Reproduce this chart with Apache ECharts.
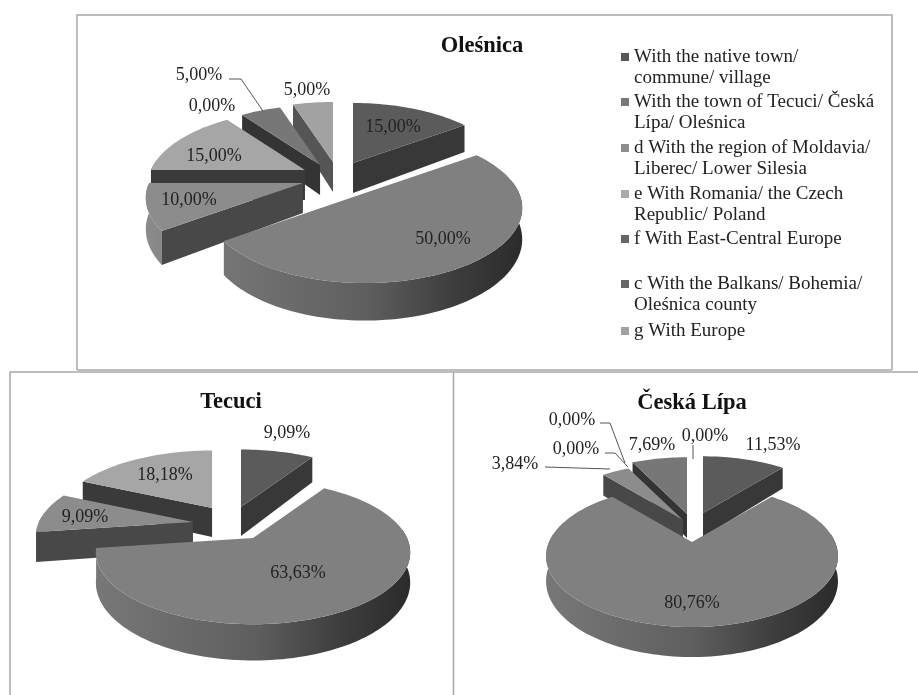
<!DOCTYPE html>
<html>
<head>
<meta charset="utf-8">
<style>html,body{margin:0;padding:0;background:#fff}#c{width:918px;height:695px}</style>
<script src="https://cdn.jsdelivr.net/npm/echarts@6/dist/echarts.min.js"></script>
</head>
<body>
<div id="c"></div>
<script>
// ---- data ----
const pieTitles = ['Oleśnica', 'Tecuci', 'Česká Lípa'];
const categories = [
  'With the native town/\ncommune/ village',
  'With the town of Tecuci/ Česká\nLípa/ Oleśnica',
  'd With the region of Moldavia/\nLiberec/ Lower Silesia',
  'e With Romania/ the Czech\nRepublic/ Poland',
  'f With East-Central Europe',
  'c With the Balkans/ Bohemia/\nOleśnica county',
  'g With Europe'
];
const olesnicaValues = [15, 50, 10, 15, 0, 5, 5];
const tecuciValues = [9.09, 63.63, 9.09, 18.18, 0, 0, 0];
const ceskaValues = [11.53, 80.76, 3.84, 0, 0, 7.69, 0];
const pieValues = [olesnicaValues, tecuciValues, ceskaValues];

// ---- styling and layout ----
const SERIF = '"Liberation Serif","Times New Roman",serif';
const INK = '#222';
const topColors = ['#5b5b5b', '#808080', '#8c8c8c', '#a6a6a6', '#555555', '#777777', '#a2a2a2'];
const faceColors = ['#383838', '#3c3c3c', '#484848', '#3a3a3a', '#333333', '#343434', '#555555'];
const legendColors = ['#575757', '#777777', '#8e8e8e', '#aaaaaa', '#666666', '#666666', '#a2a2a2'];
const paintOrder = [6, 5, 4, 0, 3, 2, 1];
const PERSPECTIVE = 0.2;
const pies = [
  { cx: 343, cy: 172, rx: 154, ry: 72, depth: 30,
    pull: [[.065,-.125],[.143,.292],[-.26,.153],[-.247,-.028],[0,0],[-.149,-.097],[-.065,-.139]],
    labels: [[393,127],[443,239],[189,200],[214,156],[212,106],[199,75],[307,90]], labelZero: true },
  { cx: 225, cy: 516, rx: 154, ry: 69, depth: 29,
    pull: [[.104,-.13],[.182,.319],[-.208,.087],[-.084,-.116],[0,0],[0,0],[0,0]],
    labels: [[287,433],[298,573],[85,517],[165,475],null,null,null], labelZero: false },
  { cx: 692, cy: 518, rx: 143, ry: 68, depth: 24,
    pull: [[.077,-.074],[0,.353],[-.063,.029],[0,0],[0,0],[-.035,-.06],[0,0]],
    labels: [[773,445],[692,603],[515,464],[576,449],[572,420],[652,445],[705,436]], labelZero: true }
];
const legendTops = [57, 102, 148, 194, 239, 284, 331];
const LEGEND_LEFT = 621, LEGEND_TEXT_X = 634, SECOND_LINE_GAP = 21.5, LEGEND_FONT = 19;
const leaders = [
  [[229,79],[241,79],[263,111]],
  [[545,467],[610,469]],
  [[605,453],[615,453],[628,467]],
  [[600,423],[610,423],[625,463]],
  [[693,445],[693,459]]
];
const frames = [
  [[77,370],[77,15],[892,15],[892,370]],
  [[77,370],[892,370]],
  [[10,695],[10,372],[918,372]],
  [[453.5,372],[453.5,695]]
];

function sliceAngles(pieIdx, slot) {
  const vals = pieValues[pieIdx];
  const total = vals.reduce((a, b) => a + b, 0);
  const before = vals.slice(0, slot).reduce((a, b) => a + b, 0);
  return [before / total * Math.PI * 2, (before + vals[slot]) / total * Math.PI * 2];
}
function project(p, ax, ay, a) {
  const x = Math.sin(a), z = -Math.cos(a), s = 1 / (1 - PERSPECTIVE * z);
  return { x: ax + p.rx * x * s, y: ay + p.ry * z * s, s };
}
function renderSlice(params, api) {
  const pieIdx = api.value(0), slot = api.value(1), val = api.value(2);
  if (!val) return null;
  const p = pies[pieIdx];
  const [a0, a1] = sliceAngles(pieIdx, slot);
  const ax = p.cx + p.pull[slot][0] * p.rx, ay = p.cy + p.pull[slot][1] * p.ry;
  const n = Math.max(6, Math.ceil((a1 - a0) / 0.03));
  const arc = [];
  for (let i = 0; i <= n; i++) arc.push(project(p, ax, ay, a0 + (a1 - a0) * i / n));
  const first = arc[0], last = arc[n];
  const face = (q) => ({
    type: 'polygon',
    shape: { points: [[ax, ay], [q.x, q.y], [q.x, q.y + p.depth * q.s], [ax, ay + p.depth]] },
    style: { fill: faceColors[slot] }
  });
  const front = arc.filter((q, i) => {
    const a = a0 + (a1 - a0) * i / n;
    return a >= Math.PI / 2 - 0.15 && a <= Math.PI * 1.5 + 0.15;
  });
  const children = [];
  if (front.length > 1) {
    const wall = front.map(q => [q.x, q.y]).concat(front.slice().reverse().map(q => [q.x, q.y + p.depth * q.s]));
    const grad = new echarts.graphic.LinearGradient(ax - p.rx, 0, ax + p.rx, 0, [
      { offset: 0, color: slot === 2 ? '#8a8a8a' : '#777777' },
      { offset: 0.5, color: '#5f5f5f' },
      { offset: 0.8, color: '#3c3c3c' },
      { offset: 1, color: '#2c2c2c' }
    ], true);
    children.push({ type: 'polygon', shape: { points: wall }, style: { fill: grad } });
  }
  // a cut face shows only when it turns towards the viewer
  if (-Math.sin(a0) > 0) children.push(face(first));
  if (Math.sin(a1) > 0) children.push(face(last));
  children.push({
    type: 'polygon',
    shape: { points: [[ax, ay]].concat(arc.map(q => [q.x, q.y])) },
    style: { fill: topColors[slot] }
  });
  return { type: 'group', children };
}
function renderLabel(params, api) {
  const pieIdx = api.value(0), slot = api.value(1), val = api.value(2);
  const p = pies[pieIdx];
  if (!p.labels[slot] || (!val && !p.labelZero)) return null;
  return {
    type: 'text',
    x: p.labels[slot][0], y: p.labels[slot][1],
    style: {
      text: val.toFixed(2).replace('.', ',') + '%',
      font: '18px ' + SERIF, fill: INK, align: 'center', verticalAlign: 'middle'
    }
  };
}

const sliceSeries = paintOrder.map((slot, i) => ({
  type: 'custom', name: categories[slot], coordinateSystem: 'none', z: 2 + i,
  silent: true, animation: false,
  itemStyle: { color: legendColors[slot] },
  renderItem: renderSlice,
  data: pieValues.map((vals, pieIdx) => [pieIdx, slot, vals[slot]])
}));
const labelRows = [];
pieValues.forEach((vals, pieIdx) => vals.forEach((v, slot) => labelRows.push([pieIdx, slot, v])));
const labelSeries = {
  type: 'custom', name: 'labels', coordinateSystem: 'none', z: 20, silent: true, animation: false,
  renderItem: renderLabel, data: labelRows
};

const legends = categories.map((name, i) => ({
  data: [name], left: LEGEND_LEFT, top: legendTops[i] - 11, orient: 'vertical', padding: 0,
  icon: 'rect', itemWidth: 8, itemHeight: 8, itemGap: 0, selectedMode: false,
  formatter: (n) => n.split('\n')[0],
  textStyle: { fontFamily: SERIF, fontSize: LEGEND_FONT, color: INK, lineHeight: 22 }
}));
const secondLines = categories.map((name, i) => name.split('\n')[1] ? ({
  type: 'text', x: LEGEND_TEXT_X, y: legendTops[i] + SECOND_LINE_GAP,
  style: { text: name.split('\n')[1], font: LEGEND_FONT + 'px ' + SERIF, fill: INK, verticalAlign: 'middle' }
}) : null).filter(Boolean);
const lineEls = frames.map(pts => ({
  type: 'polyline', z: 0, shape: { points: pts }, style: { stroke: '#a8a8a8', lineWidth: 1.5, fill: null }
})).concat(leaders.map(pts => ({
  type: 'polyline', z: 30, shape: { points: pts }, style: { stroke: '#555', lineWidth: 1, fill: null }
})));

const chart = echarts.init(document.getElementById('c'), null, { renderer: 'canvas' });
chart.setOption({
  animation: false,
  backgroundColor: '#fff',
  title: [[482, 35], [231, 391], [692, 392]].map((pos, i) => ({
    text: pieTitles[i], left: pos[0], top: pos[1], textAlign: 'center', padding: 0,
    textStyle: { fontFamily: SERIF, fontSize: 22.5, fontWeight: 'bold', color: '#111' }
  })),
  legend: legends,
  graphic: { elements: lineEls.concat(secondLines) },
  series: sliceSeries.concat([labelSeries])
});
</script>
</body>
</html>
